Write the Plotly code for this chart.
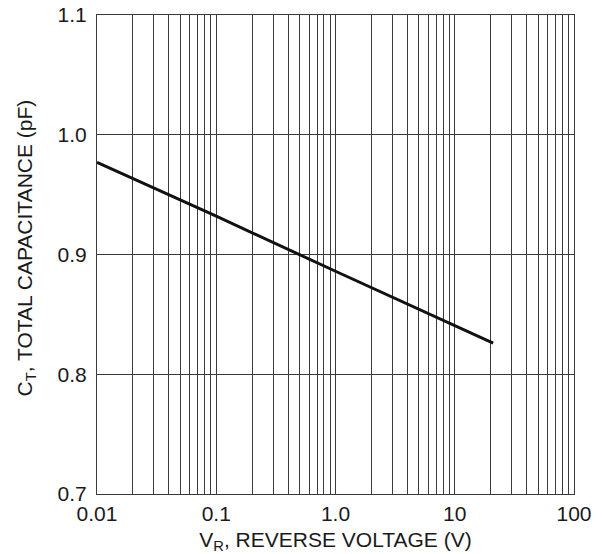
import plotly.graph_objects as go

# Data
vr = [0.01, 0.1, 1.0, 10.0, 21.0]
ct = [0.977, 0.932, 0.886, 0.841, 0.826]

x_tickvals = [0.01, 0.1, 1.0, 10, 100]
x_ticktext = ["0.01", "0.1", "1.0", "10", "100"]
y_tickvals = [0.7, 0.8, 0.9, 1.0, 1.1]
y_ticktext = ["0.7", "0.8", "0.9", "1.0", "1.1"]

FONT = "Liberation Sans, Arial, sans-serif"
GRID = "#3a3a3a"
FS = 21

fig = go.Figure()
fig.add_trace(go.Scatter(x=vr, y=ct, mode="lines",
                         line=dict(color="#111111", width=3),
                         showlegend=False, hoverinfo="skip"))

fig.update_layout(
    width=602, height=554,
    margin=dict(l=97, r=28, t=15, b=60, autoexpand=False),
    paper_bgcolor="white", plot_bgcolor="white",
    font=dict(family=FONT, size=FS, color="#1a1a1a"),
    showlegend=False,
)
fig.update_xaxes(
    type="log", range=[-2, 2],
    tickvals=x_tickvals, ticktext=x_ticktext,
    showgrid=True, gridcolor=GRID, gridwidth=1,
    minor=dict(dtick="D1", showgrid=True, gridcolor=GRID, gridwidth=1, ticks=""),
    showline=True, linecolor=GRID, linewidth=1, mirror=True,
    ticks="", tickfont=dict(size=FS), ticklabeloverflow="allow",
    ticklabelstandoff=1,
    zeroline=False,
    title=dict(text="V<sub>R</sub>, REVERSE VOLTAGE (V)", font=dict(size=FS), standoff=9),
)
fig.update_yaxes(
    range=[0.7, 1.1],
    tickvals=y_tickvals, ticktext=y_ticktext,
    showgrid=True, gridcolor=GRID, gridwidth=1,
    showline=True, linecolor=GRID, linewidth=1, mirror=True,
    ticks="", tickfont=dict(size=FS), ticklabeloverflow="allow",
    ticklabelstandoff=5,
    zeroline=False,
)
fig.add_annotation(
    text="C<sub>T</sub>, TOTAL CAPACITANCE (pF)",
    xref="paper", yref="paper", x=0, y=0.5,
    xanchor="center", yanchor="middle",
    xshift=-72, yshift=6, textangle=-90, showarrow=False,
    font=dict(family=FONT, size=FS, color="#1a1a1a"),
)

fig.write_html("out.html", config={"displayModeBar": False},
               post_script="document.body.style.margin='0';document.body.style.overflow='hidden';")
